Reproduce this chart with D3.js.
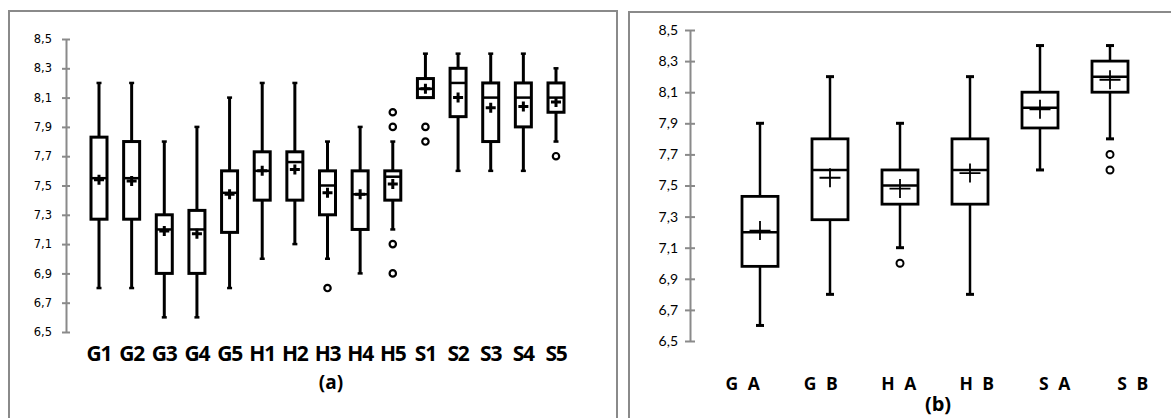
<!DOCTYPE html>
<html>
<head>
<meta charset="utf-8">
<script src="https://cdn.jsdelivr.net/npm/d3@7"></script>
<style>
  html, body { margin: 0; padding: 0; background: #fff; }
  svg { display: block; }
</style>
</head>
<body>
<svg id="chart" width="1171" height="418"></svg>
<script>
// ---- Panel (a): individual samples ----
const catsA    = ["G1","G2","G3","G4","G5","H1","H2","H3","H4","H5","S1","S2","S3","S4","S5"];
const lowA     = [6.8, 6.8, 6.6, 6.6, 6.8, 7.0, 7.1, 7.0, 6.9, 7.2, 8.1, 7.6, 7.6, 7.6, 7.8];
const q1A      = [7.27, 7.27, 6.9, 6.9, 7.18, 7.4, 7.4, 7.3, 7.2, 7.4, 8.1, 7.97, 7.8, 7.9, 8.0];
const medA     = [7.55, 7.55, 7.2, 7.2, 7.45, 7.6, 7.66, 7.5, 7.44, 7.56, 8.16, 8.2, 8.1, 8.1, 8.1];
const q3A      = [7.83, 7.8, 7.3, 7.33, 7.6, 7.73, 7.73, 7.6, 7.6, 7.6, 8.23, 8.3, 8.2, 8.2, 8.2];
const highA    = [8.2, 8.2, 7.8, 7.9, 8.1, 8.2, 8.2, 7.8, 7.9, 7.8, 8.4, 8.4, 8.4, 8.4, 8.3];
const meanA    = [7.54, 7.53, 7.19, 7.17, 7.44, 7.6, 7.61, 7.45, 7.44, 7.51, 8.16, 8.1, 8.03, 8.04, 8.07];
const outA     = [[], [], [], [], [], [], [], [6.8], [], [8.0, 7.9, 7.1, 6.9], [7.9, 7.8], [], [], [], [7.7]];

// ---- Panel (b): grouped samples ----
const catsB    = ["G A","G B","H A","H B","S A","S B"];
const lowB     = [6.6, 6.8, 7.1, 6.8, 7.6, 7.8];
const q1B      = [6.98, 7.28, 7.38, 7.38, 7.87, 8.1];
const medB     = [7.2, 7.6, 7.5, 7.6, 8.0, 8.2];
const q3B      = [7.43, 7.8, 7.6, 7.8, 8.1, 8.3];
const highB    = [7.9, 8.2, 7.9, 8.2, 8.4, 8.4];
const meanB    = [7.21, 7.55, 7.48, 7.58, 7.99, 8.18];
const outB     = [[], [], [7.0], [], [], [7.7, 7.6]];

const yTicks   = [6.5, 6.7, 6.9, 7.1, 7.3, 7.5, 7.7, 7.9, 8.1, 8.3, 8.5];
const fmt = v => d3.format(".1f")(v).replace(".", ",");

const svg = d3.select("#chart");
const frameColor = "#8a8a8a";

// Panel frames (open at the bottom edge of the page)
svg.append("path")
  .attr("d", "M9,418 V11 H617 V418")
  .attr("fill", "none").attr("stroke", frameColor).attr("stroke-width", 2);
svg.append("path")
  .attr("d", "M629,418 V12 H1171")
  .attr("fill", "none").attr("stroke", frameColor).attr("stroke-width", 2);

function drawPanel(cfg) {
  const g = svg.append("g");
  const x = d3.scalePoint().domain(cfg.cats).range(cfg.xRange);
  const y = d3.scaleLinear().domain([6.5, 8.5]).range(cfg.yRange);

  // y axis
  const axis = d3.axisLeft(y).tickValues(yTicks).tickFormat(fmt).tickSize(0).tickPadding(cfg.tickPad);
  const ag = g.append("g").attr("transform", `translate(${cfg.axisX},0)`).call(axis);
  ag.select(".domain").attr("stroke", frameColor).attr("stroke-width", 2);
  ag.selectAll(".tick text")
    .attr("font-family", cfg.tickFont).attr("font-size", cfg.tickSize).attr("fill", "#000");
  ag.selectAll(".tick").append("line")
    .attr("x1", -cfg.tickLen).attr("x2", cfg.tickLen)
    .attr("stroke", frameColor).attr("stroke-width", 2);

  const idx = d3.range(cfg.cats.length);
  const bw = cfg.boxW;
  const item = g.selectAll("g.box").data(idx).join("g").attr("class", "box");

  // whiskers
  item.append("line")
    .attr("x1", i => x(cfg.cats[i])).attr("x2", i => x(cfg.cats[i]))
    .attr("y1", i => y(cfg.high[i])).attr("y2", i => y(cfg.low[i]))
    .attr("stroke", "#000").attr("stroke-width", cfg.whiskerW);
  // caps
  ["high", "low"].forEach(k => {
    item.append("line")
      .attr("x1", i => x(cfg.cats[i]) - cfg.capW / 2).attr("x2", i => x(cfg.cats[i]) + cfg.capW / 2)
      .attr("y1", i => y(cfg[k][i])).attr("y2", i => y(cfg[k][i]))
      .attr("stroke", "#000").attr("stroke-width", cfg.capStroke);
  });
  // boxes
  item.append("rect")
    .attr("x", i => x(cfg.cats[i]) - bw / 2).attr("width", bw)
    .attr("y", i => y(cfg.q3[i])).attr("height", i => y(cfg.q1[i]) - y(cfg.q3[i]))
    .attr("fill", "#fff").attr("stroke", "#000").attr("stroke-width", cfg.boxStroke);
  // medians
  item.append("line")
    .attr("x1", i => x(cfg.cats[i]) - bw / 2).attr("x2", i => x(cfg.cats[i]) + bw / 2)
    .attr("y1", i => y(cfg.med[i])).attr("y2", i => y(cfg.med[i]))
    .attr("stroke", "#000").attr("stroke-width", cfg.medStroke);
  // mean markers (+)
  item.append("path")
    .attr("d", i => {
      const cx = x(cfg.cats[i]), cy = y(cfg.mean[i]);
      return `M${cx - cfg.plusW / 2},${cy}H${cx + cfg.plusW / 2}M${cx},${cy - cfg.plusH / 2}V${cy + cfg.plusH / 2}`;
    })
    .attr("stroke", "#000").attr("stroke-width", cfg.plusStroke).attr("fill", "none");
  // outliers
  item.selectAll("circle")
    .data(i => cfg.out[i].map(v => ({ i, v })))
    .join("circle")
    .attr("cx", d => x(cfg.cats[d.i])).attr("cy", d => y(d.v))
    .attr("r", cfg.outR)
    .attr("fill", "#fff").attr("stroke", "#000").attr("stroke-width", cfg.outStroke);

  // category labels
  const lx = cfg.labelScale ? cfg.labelScale : x;
  g.selectAll("text.cat").data(cfg.cats).join("text")
    .attr("class", "cat")
    .attr("x", d => lx(d)).attr("y", cfg.labelY)
    .attr("text-anchor", "middle")
    .attr("font-family", cfg.labelFont).attr("font-weight", "bold")
    .attr("font-size", cfg.labelSize)
    .attr("letter-spacing", cfg.labelSpacing)
    .attr("fill", "#000")
    .text(d => d);

  g.append("text")
    .attr("x", cfg.titleX).attr("y", cfg.titleY)
    .attr("text-anchor", "middle")
    .attr("font-family", cfg.labelFont).attr("font-weight", "bold")
    .attr("font-size", cfg.titleSize).attr("fill", "#000")
    .text(cfg.title);
}

drawPanel({
  cats: catsA, low: lowA, q1: q1A, med: medA, q3: q3A, high: highA, mean: meanA, out: outA,
  xRange: [99, 556], yRange: [332, 39], axisX: 66,
  tickPad: 14, tickLen: 4, tickFont: "DejaVu Sans", tickSize: 11.5,
  boxW: 16, whiskerW: 3, capW: 5, capStroke: 2.5, boxStroke: 3, medStroke: 2.5,
  plusW: 10, plusH: 10, plusStroke: 3, outR: 3.2, outStroke: 2.2,
  labelFont: "Open Sans", labelSize: 21, labelSpacing: -1.2, labelY: 361,
  title: "(a)", titleX: 331, titleY: 389, titleSize: 19
});

drawPanel({
  cats: catsB, low: lowB, q1: q1B, med: medB, q3: q3B, high: highB, mean: meanB, out: outB,
  xRange: [760, 1110], yRange: [341, 30], axisX: 690,
  tickPad: 12, tickLen: 5, tickFont: "Lato", tickSize: 14,
  boxW: 36, whiskerW: 2.5, capW: 8, capStroke: 3, boxStroke: 2.8, medStroke: 2.5,
  plusW: 21, plusH: 19, plusStroke: 1.8, outR: 3.5, outStroke: 2,
  labelScale: d3.scalePoint().domain(catsB).range([744, 1134]),
  labelFont: "Open Sans", labelSize: 17.5, labelSpacing: 2.5, labelY: 390,
  title: "(b)", titleX: 938, titleY: 411, titleSize: 20
});
</script>
</body>
</html>
